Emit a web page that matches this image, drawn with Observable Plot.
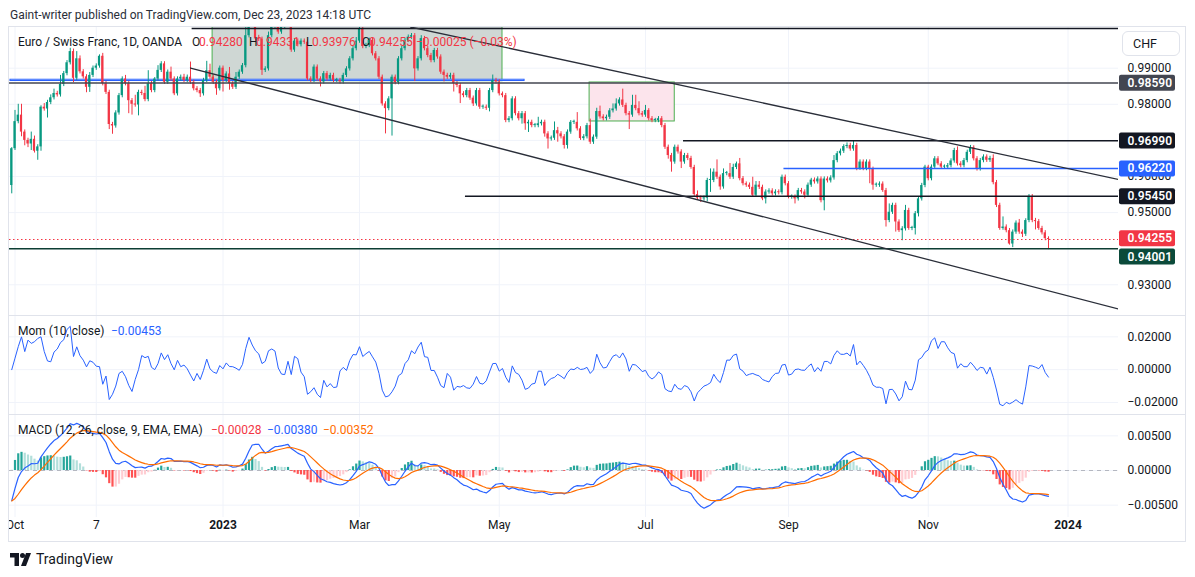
<!DOCTYPE html>
<html><head><meta charset="utf-8">
<script src="https://cdn.jsdelivr.net/npm/d3@7"></script>
<script src="https://cdn.jsdelivr.net/npm/@observablehq/plot@0.6"></script>
<style>
html,body{margin:0;padding:0;background:#fff;}
#root{position:relative;width:1195px;height:577px;overflow:hidden;background:#fff;font-family:Roboto,"Noto Sans",sans-serif;color:#131722;}
.a{position:absolute;white-space:nowrap;line-height:1;}
.pane{position:absolute;left:9px;width:1177px;overflow:hidden;}
.sep{position:absolute;left:9px;width:1177px;height:1px;background:#e0e3eb;}
</style></head><body><div id="root">
<div class="a" style="left:10px;top:9px;font-size:12px;color:#2a2e39">Gaint-writer published on TradingView.com, Dec 23, 2023 14:18 UTC</div>
<div class="a" style="left:8px;top:26px;width:1178px;height:516px;border:1px solid #e0e3eb;box-sizing:border-box"></div>
<div id="price" class="pane" style="top:27px;height:288px"></div>
<div id="mom" class="pane" style="top:315px;height:99px"></div>
<div id="macd" class="pane" style="top:414px;height:128px"></div>
<div class="sep" style="top:315px"></div>
<div class="sep" style="top:414px"></div>
<div id="legend" style="font-size:12px"></div>
<div class="a" style="left:1122px;top:31px;width:58px;height:25px;border:1px solid #e0e3eb;border-radius:6px;box-sizing:border-box;background:#fff"></div>
<div class="a" style="left:1133px;top:38px;font-size:12.5px;color:#131722">CHF</div>
<svg class="a" style="left:10px;top:553px" width="24" height="13" viewBox="0 0 24 13"><path d="M0 0h9v13h-4.5v-8.5h-4.5z" fill="#131722"/><circle cx="12.5" cy="2.5" r="2.5" fill="#131722"/><path d="M11 13l5-13h5l-5 13z" fill="#131722"/></svg>
<div class="a" style="left:36px;top:552px;font-size:14px;color:#131722">TradingView</div>
</div>
<script>
// ---------------- data ----------------
const close = [
0.9677,0.9752,0.9770,0.9723,0.9700,0.9690,0.9703,0.9670,0.9682,0.9792,
0.9787,0.9805,0.9818,0.9830,0.9826,0.9855,0.9885,0.9915,0.9946,0.9872,
0.9926,0.9890,0.9876,0.9847,0.9880,0.9900,0.9906,0.9933,0.9857,0.9833,
0.9744,0.9740,0.9776,0.9824,0.9870,0.9857,0.9810,0.9800,0.9798,0.9833,
0.9830,0.9813,0.9857,0.9838,0.9870,0.9894,0.9912,0.9861,0.9889,0.9870,
0.9829,0.9870,0.9875,0.9866,0.9875,0.9861,0.9843,0.9838,0.9829,0.9866,
0.9893,0.9875,0.9861,0.9843,0.9900,0.9866,0.9884,0.9857,0.9847,0.9875,
0.9889,0.9907,0.9990,1.0040,1.0050,0.9981,0.9980,0.9894,0.9898,0.9990,
1.0015,1.0020,1.0000,1.0013,1.0020,1.0032,0.9950,0.9975,0.9965,0.9975,
0.9972,0.9870,0.9866,0.9903,0.9870,0.9862,0.9885,0.9870,0.9880,0.9866,
0.9866,0.9862,0.9880,0.9898,0.9926,0.9954,0.9975,1.0010,0.9960,0.9963,
0.9977,0.9940,0.9926,0.9875,0.9801,0.9788,0.9815,0.9875,0.9860,0.9926,
0.9954,0.9977,0.9986,0.9990,0.9898,0.9926,0.9982,0.9954,0.9935,0.9921,
0.9949,0.9931,0.9889,0.9880,0.9875,0.9880,0.9857,0.9852,0.9829,0.9824,
0.9838,0.9817,0.9801,0.9838,0.9792,0.9792,0.9789,0.9838,0.9866,0.9862,
0.9829,0.9824,0.9755,0.9760,0.9815,0.9774,0.9760,0.9774,0.9746,0.9750,
0.9741,0.9741,0.9746,0.9750,0.9718,0.9704,0.9706,0.9727,0.9718,0.9710,
0.9686,0.9723,0.9750,0.9750,0.9732,0.9705,0.9710,0.9741,0.9695,0.9709,
0.9780,0.9765,0.9760,0.9764,0.9782,0.9787,0.9801,0.9812,0.9797,0.9774,
0.9770,0.9797,0.9788,0.9774,0.9770,0.9783,0.9760,0.9755,0.9755,0.9760,
0.9741,0.9681,0.9658,0.9640,0.9681,0.9668,0.9640,0.9658,0.9650,0.9625,
0.9550,0.9540,0.9538,0.9540,0.9589,0.9589,0.9612,0.9598,0.9571,0.9608,
0.9608,0.9598,0.9625,0.9635,0.9594,0.9580,0.9576,0.9570,0.9548,0.9576,
0.9570,0.9538,0.9557,0.9560,0.9552,0.9557,0.9555,0.9598,0.9580,0.9543,
0.9543,0.9538,0.9561,0.9557,0.9548,0.9576,0.9590,0.9585,0.9593,0.9533,
0.9593,0.9588,0.9596,0.9644,0.9663,0.9670,0.9683,0.9686,0.9676,0.9686,
0.9622,0.9640,0.9622,0.9640,0.9620,0.9576,0.9576,0.9579,0.9561,0.9478,
0.9501,0.9520,0.9474,0.9450,0.9455,0.9506,0.9456,0.9456,0.9497,0.9538,
0.9575,0.9626,0.9594,0.9626,0.9649,0.9635,0.9626,0.9626,0.9630,0.9643,
0.9672,0.9635,0.9630,0.9644,0.9667,0.9680,0.9649,0.9621,0.9644,0.9654,
0.9645,0.9650,0.9583,0.9520,0.9456,0.9460,0.9450,0.9413,0.9446,0.9471,
0.9446,0.9440,0.9478,0.9545,0.9478,0.9475,0.9456,0.9444,0.9428,0.94255];

const open = [
0.9575,0.9677,0.9752,0.9770,0.9723,0.9700,0.9690,0.9703,0.9670,0.9682,
0.9792,0.9787,0.9805,0.9818,0.9830,0.9826,0.9855,0.9885,0.9915,0.9946,
0.9872,0.9926,0.9890,0.9876,0.9847,0.9880,0.9900,0.9906,0.9933,0.9857,
0.9833,0.9744,0.9740,0.9776,0.9824,0.9870,0.9857,0.9810,0.9800,0.9798,
0.9833,0.9830,0.9813,0.9857,0.9838,0.9870,0.9894,0.9912,0.9861,0.9889,
0.9870,0.9829,0.9870,0.9875,0.9866,0.9875,0.9861,0.9843,0.9838,0.9829,
0.9866,0.9893,0.9875,0.9861,0.9843,0.9900,0.9866,0.9884,0.9857,0.9847,
0.9875,0.9889,0.9907,0.9990,1.0040,1.0050,0.9981,0.9980,0.9894,0.9898,
0.9990,1.0015,1.0020,1.0000,1.0013,1.0020,1.0032,0.9950,0.9975,0.9965,
0.9975,0.9972,0.9870,0.9866,0.9903,0.9870,0.9862,0.9885,0.9870,0.9880,
0.9866,0.9866,0.9862,0.9880,0.9898,0.9926,0.9954,0.9975,1.0010,0.9960,
0.9963,0.9977,0.9940,0.9926,0.9875,0.9801,0.9788,0.9815,0.9875,0.9860,
0.9926,0.9954,0.9977,0.9986,0.9990,0.9898,0.9926,0.9982,0.9954,0.9935,
0.9921,0.9949,0.9931,0.9889,0.9880,0.9875,0.9880,0.9857,0.9852,0.9829,
0.9824,0.9838,0.9817,0.9801,0.9838,0.9792,0.9792,0.9789,0.9838,0.9866,
0.9862,0.9829,0.9824,0.9755,0.9760,0.9815,0.9774,0.9760,0.9774,0.9746,
0.9750,0.9741,0.9741,0.9746,0.9750,0.9718,0.9704,0.9706,0.9727,0.9718,
0.9710,0.9686,0.9723,0.9750,0.9750,0.9732,0.9705,0.9710,0.9741,0.9695,
0.9709,0.9780,0.9765,0.9760,0.9764,0.9782,0.9787,0.9801,0.9812,0.9797,
0.9774,0.9770,0.9797,0.9788,0.9774,0.9770,0.9783,0.9760,0.9755,0.9755,
0.9760,0.9741,0.9681,0.9658,0.9640,0.9681,0.9668,0.9640,0.9658,0.9650,
0.9625,0.9550,0.9540,0.9538,0.9540,0.9589,0.9589,0.9612,0.9598,0.9571,
0.9608,0.9608,0.9598,0.9625,0.9635,0.9594,0.9580,0.9576,0.9570,0.9548,
0.9576,0.9570,0.9538,0.9557,0.9560,0.9552,0.9557,0.9555,0.9598,0.9580,
0.9543,0.9543,0.9538,0.9561,0.9557,0.9548,0.9576,0.9590,0.9585,0.9593,
0.9533,0.9593,0.9588,0.9596,0.9644,0.9663,0.9670,0.9683,0.9686,0.9676,
0.9686,0.9622,0.9640,0.9622,0.9640,0.9620,0.9576,0.9576,0.9579,0.9561,
0.9478,0.9501,0.9520,0.9474,0.9450,0.9455,0.9506,0.9456,0.9456,0.9497,
0.9538,0.9575,0.9626,0.9594,0.9626,0.9649,0.9635,0.9626,0.9626,0.9630,
0.9643,0.9672,0.9635,0.9630,0.9644,0.9667,0.9680,0.9649,0.9621,0.9644,
0.9654,0.9645,0.9650,0.9583,0.9520,0.9456,0.9460,0.9450,0.9413,0.9446,
0.9471,0.9446,0.9440,0.9478,0.9545,0.9478,0.9475,0.9456,0.9444,0.9428];

// wick lengths above / below the candle body, in pips (0.0001)
const upWick = [
3,31,30,30,6,6,20,9,6,4,10,6,8,12,6,25,6,6,9,7,
20,8,6,6,8,6,6,4,8,6,6,6,6,6,6,10,6,6,25,6,
6,20,36,6,4,13,6,6,6,14,6,6,6,8,6,42,6,6,6,6,
26,18,6,6,6,6,6,18,6,13,6,6,30,20,20,10,10,6,6,10,
10,10,10,10,10,10,12,6,6,6,6,6,6,6,6,6,6,6,6,6,
6,6,6,6,6,6,10,30,30,6,6,6,6,6,6,6,6,6,6,6,
6,6,6,6,6,6,8,6,6,6,6,6,6,6,6,6,6,6,6,6,
6,6,6,6,6,6,6,6,15,6,6,5,6,6,6,6,6,6,6,6,
6,6,18,6,6,6,6,24,9,6,6,6,5,6,27,6,6,6,18,6,
9,15,6,6,6,14,14,6,30,6,6,28,28,19,6,14,5,6,6,6,
6,6,6,6,6,6,6,6,6,6,6,10,6,6,6,32,9,34,6,13,
6,28,9,5,15,6,5,6,28,10,10,6,6,6,6,6,6,6,6,6,
6,6,6,6,6,6,5,6,6,6,6,6,6,14,6,6,5,7,6,11,
6,6,6,6,6,6,6,6,6,6,23,6,6,6,6,14,6,6,6,6,
6,5,5,6,6,6,6,6,6,6,6,10,6,6,6,6,5,6,6,6,
6,6,10,6,6,28,6,6,6,6,10,6,5,5,5,6,6,6,6,5];
const downWick = [
23,5,6,13,15,10,18,5,25,12,6,25,6,6,6,6,6,6,6,12,
6,6,6,15,14,6,6,6,6,6,14,23,6,6,6,6,36,30,6,30,
6,6,6,6,6,6,6,6,6,6,5,6,6,6,6,6,6,6,10,6,
6,6,6,18,6,32,6,18,6,6,6,6,6,6,6,6,6,14,6,6,
6,6,6,6,6,6,6,6,6,6,6,5,6,6,6,14,6,6,6,6,
6,6,6,6,6,6,6,6,6,6,6,6,6,6,6,70,6,103,6,6,
6,6,6,6,35,6,6,6,6,6,6,6,6,18,6,6,23,6,27,6,
6,6,7,6,6,6,6,10,6,6,6,6,6,6,6,6,6,15,18,24,
6,6,6,6,9,28,6,6,23,6,10,10,6,6,6,5,6,6,6,6,
6,6,6,6,6,6,6,6,6,6,40,6,6,6,6,6,6,6,6,6,
6,6,10,28,6,6,18,6,6,5,6,5,10,6,10,33,6,6,9,6,
6,6,6,6,6,6,6,6,6,6,6,5,14,6,6,6,6,6,6,5,
6,14,6,6,10,5,6,6,6,6,28,6,6,6,6,6,6,6,6,6,
6,5,6,6,40,14,6,6,5,18,6,6,28,5,28,6,5,6,18,9,
6,6,6,6,6,5,6,6,6,6,6,6,6,6,6,6,6,6,6,6,
6,6,6,6,5,5,6,3,10,6,6,9,6,6,6,23,5,6,6,28];

// closes of the 10 sessions before the first visible bar (read back from the momentum pane)
const priorCloses = [0.9677,0.9682,0.9630,0.9523,0.9590,0.9510,0.9543,0.9500,0.9492,0.9592];
// MACD state just before the first visible bar
const ema12Seed = 0.9550, ema26Seed = 0.9608, signalSeed = -0.0044;

const priceTicks = [0.93,0.94,0.95,0.96,0.97,0.98,0.99];
const priceTickLabels = [0.93,0.95,0.96,0.98,0.99]; // 0.94 and 0.97 sit under level labels
const momTicks = [-0.02,0,0.02];
const macdTicks = [-0.005,0,0.005];
const timeTickBars = [1,26,65,107,150,195,239,282,325];
const timeTickLabels = ["Oct","7","2023","Mar","May","Jul","Sep","Nov","2024"];
const timeTickIsYear = [false,false,true,false,false,false,false,false,true];

// drawings on the chart (bar index / price)
const levelPrices = [0.98590,0.96990,0.96220,0.95450,0.94001];
const levelStartBars = [-0.7,206.7,237.6,139.6,-0.7];
const lastPrice = 0.94255;
const topLineBar = 55.5, topLinePrice = 1.00102;
const upperTrend = [[122.7,1.00141],[340.5,0.95917]];
const lowerTrend = [[55.0,0.99005],[340.5,0.92330]];
const greyBox = [61.8,151.0,0.9864,1.0120];
const pinkBox = [177.8,204.0,0.97524,0.98604];
const blueStrip = [-0.4,157.8,0.98645,0.98680];
const labelPrices = [0.98590,0.96990,0.96220,0.95450,0.94255,0.94001];

// ---------------- styles ----------------
const UP = "#089981", DOWN = "#f23645";
const levelColors = ["#434651","#131722","#2962ff","#131722","#0d3d33"];
const labelBg = ["#434651","#131722","#2962ff","#131722","#f23645","#0b4a3a"];
const labelDy = [0,0,0,0,-1,8];
const W = 1177, PR = 1109;
const xMin = (0 - 2.25) / 3.25, xMax = (PR - 2.25) / 3.25;
const fmt = d3.format(".5f");
const GRID = "#f0f3fa";

const bars = close.map((c, i) => {
  const o = open[i];
  const b1 = Math.min(o, c), b2 = Math.max(o, c);
  return {i, o, c, hi: b2 + upWick[i] / 1e4, lo: b1 - downWick[i] / 1e4,
          col: c >= o ? UP : DOWN, b1, b2: Math.max(b2, b1 + 0.00028)};
});

// indicators from the closes
const momRows = close.map((c, i) => ({i, m: c - (i >= 10 ? close[i - 10] : priorCloses[i])}));
let e12 = ema12Seed, e26 = ema26Seed, sig = signalSeed;
const macdRows = close.map((c, i) => {
  e12 += (c - e12) * 2 / 13; e26 += (c - e26) * 2 / 27;
  const m = e12 - e26; sig += (m - sig) * 2 / 10;
  return {i, macd: m, signal: sig, hist: m - sig};
});
macdRows.forEach((d, i) => {
  const prev = i ? macdRows[i - 1].hist : d.hist;
  d.col = d.hist >= 0 ? (prev < d.hist ? "#26a69a" : "#b2dfdb") : (prev < d.hist ? "#ffcdd2" : "#ff5252");
});

const timeTicks = timeTickBars.map((b, k) => ({bar: b, label: timeTickLabels[k], year: timeTickIsYear[k]}));
const baseStyle = {fontFamily: "Roboto, 'Noto Sans', sans-serif", background: "transparent", overflow: "hidden"};

// ---------------- price pane ----------------
const seg = (a) => ({x1: a[0], x2: a[1], y1: a[2], y2: a[3]});
const priceSvg = Plot.plot({
  width: W, height: 288, margin: 0, marginRight: W - PR,
  style: baseStyle,
  color: {type: "identity"},
  x: {domain: [xMin, xMax], axis: null},
  y: {domain: [0.92150, 1.00127], axis: null},
  marks: [
    Plot.ruleY(priceTicks, {stroke: GRID}),
    Plot.ruleX(timeTickBars, {stroke: GRID}),
    Plot.rect([seg(greyBox)], {x1: "x1", x2: "x2", y1: "y1", y2: "y2", fill: "#cfd7d4", stroke: "#4caf50", strokeWidth: 1, clip: true}),
    Plot.rect([seg(pinkBox)], {x1: "x1", x2: "x2", y1: "y1", y2: "y2", fill: "#fce4ec", stroke: "#4caf50", strokeWidth: 1, clip: true}),
    Plot.rect([seg(blueStrip)], {x1: "x1", x2: "x2", y1: "y1", y2: "y2", fill: "#ffffff", stroke: "#2962ff", strokeWidth: 1, clip: true}),
    Plot.ruleX(bars, {x: "i", y1: "lo", y2: "hi", stroke: "col", strokeWidth: 1, clip: true}),
    Plot.rect(bars, {x1: d => d.i - 0.34, x2: d => d.i + 0.34, y1: "b1", y2: "b2", fill: "col", clip: true}),
    Plot.ruleY([lastPrice], {stroke: "#f23645", strokeDasharray: "1.5,2.5", strokeWidth: 1}),
    Plot.ruleY(levelPrices.map((p, k) => ({p, s: levelStartBars[k], col: levelColors[k]})),
      {y: "p", x1: "s", x2: xMax, stroke: "col", strokeWidth: 1.5}),
    Plot.ruleY([{p: topLinePrice, s: topLineBar}], {y: "p", x1: "s", x2: xMax, stroke: "#131722", strokeWidth: 1.5}),
    Plot.line(upperTrend, {x: d => d[0], y: d => d[1], stroke: "#2a2e39", strokeWidth: 1.3, clip: true}),
    Plot.line(lowerTrend, {x: d => d[0], y: d => d[1], stroke: "#2a2e39", strokeWidth: 1.3, clip: true}),
    Plot.text(priceTickLabels, {y: d => d, text: d => fmt(d), frameAnchor: "right", textAnchor: "start", dx: 9, fill: "#131722", fontSize: 12}),
    ...labelPrices.map((p, k) => Plot.text([p], {y: d => d, text: d => fmt(d), frameAnchor: "right", textAnchor: "start",
      dx: 9, dy: labelDy[k], fill: "white", fontSize: 12, fontWeight: 600}))
  ]
});
document.getElementById("price").appendChild(priceSvg);

// label boxes behind the level labels on the price scale
(function () {
  const ns = "http://www.w3.org/2000/svg";
  const sr = priceSvg.getBoundingClientRect();
  labelPrices.forEach((p, k) => {
    const s = fmt(p);
    const t = [...priceSvg.querySelectorAll("text")].filter(e => e.textContent === s).pop();
    if (!t) return;
    const r = t.getBoundingClientRect();
    const cy = (r.top + r.bottom) / 2 - sr.top;
    const rect = document.createElementNS(ns, "rect");
    rect.setAttribute("x", PR + 1); rect.setAttribute("y", cy - 8);
    rect.setAttribute("width", 56); rect.setAttribute("height", 16);
    rect.setAttribute("rx", 2); rect.setAttribute("fill", labelBg[k]);
    let n = t; while (n.parentNode && n.parentNode !== priceSvg) n = n.parentNode;
    priceSvg.insertBefore(rect, n);
  });
})();

// ---------------- momentum pane ----------------
const momSvg = Plot.plot({
  width: W, height: 99, margin: 0, marginRight: W - PR,
  style: baseStyle,
  x: {domain: [xMin, xMax], axis: null},
  y: {domain: [-0.02732, 0.03299], axis: null},
  marks: [
    Plot.ruleY(momTicks, {stroke: GRID}),
    Plot.ruleX(timeTickBars, {stroke: GRID}),
    Plot.line(momRows, {x: "i", y: "m", stroke: "#2962ff", strokeWidth: 1, clip: true}),
    Plot.text(momTicks, {y: d => d, text: d => fmt(d), frameAnchor: "right", textAnchor: "start", dx: 9, fill: "#131722", fontSize: 12})
  ]
});
document.getElementById("mom").appendChild(momSvg);

// ---------------- MACD pane + time axis ----------------
const macdSvg = Plot.plot({
  width: W, height: 128, marginTop: 0, marginLeft: 0, marginRight: W - PR, marginBottom: 25,
  style: baseStyle,
  color: {type: "identity"},
  x: {domain: [xMin, xMax], axis: null},
  y: {domain: [-0.00678, 0.00808], axis: null},
  marks: [
    Plot.ruleY(macdTicks, {stroke: GRID}),
    Plot.ruleX(timeTickBars, {stroke: GRID}),
    Plot.ruleY([0], {stroke: "#787b86", strokeOpacity: 0.5, strokeDasharray: "4,4"}),
    Plot.ruleX(macdRows, {x: "i", y1: 0, y2: "hist", stroke: "col", strokeWidth: 2.2, clip: true}),
    Plot.line(macdRows, {x: "i", y: "macd", stroke: "#2962ff", strokeWidth: 1.2, clip: true}),
    Plot.line(macdRows, {x: "i", y: "signal", stroke: "#ff6d00", strokeWidth: 1.2, clip: true}),
    Plot.text(macdTicks, {y: d => d, text: d => fmt(d), frameAnchor: "right", textAnchor: "start", dx: 9, fill: "#131722", fontSize: 12}),
    Plot.text(timeTicks.filter(d => !d.year), {x: "bar", text: "label", frameAnchor: "bottom", dy: 11, fill: "#131722", fontSize: 12}),
    Plot.text(timeTicks.filter(d => d.year), {x: "bar", text: "label", frameAnchor: "bottom", dy: 11, fill: "#131722", fontSize: 12, fontWeight: 700})
  ]
});
document.getElementById("macd").appendChild(macdSvg);

// ---------------- pane legends ----------------
const legendItems = [
  {t: "Euro / Swiss Franc, 1D, OANDA", x: 18, y: 36, c: "#131722"},
  {t: "O", x: 192, y: 36, c: "#131722"}, {t: "0.94280", x: 199, y: 36, c: "#f23645"},
  {t: "H", x: 249, y: 36, c: "#131722"}, {t: "0.94331", x: 256, y: 36, c: "#f23645"},
  {t: "L", x: 306, y: 36, c: "#131722"}, {t: "0.93976", x: 312, y: 36, c: "#f23645"},
  {t: "C", x: 362, y: 36, c: "#131722"}, {t: "0.94255", x: 369, y: 36, c: "#f23645"},
  {t: "\u22120.00025 (\u22120.03%)", x: 416, y: 36, c: "#f23645"},
  {t: "Mom (10, close)", x: 18, y: 325, c: "#131722"},
  {t: "\u22120.00453", x: 111, y: 325, c: "#2962ff"},
  {t: "MACD (12, 26, close, 9, EMA, EMA)", x: 18, y: 424, c: "#131722"},
  {t: "\u22120.00028", x: 211, y: 424, c: "#f23645"},
  {t: "\u22120.00380", x: 267, y: 424, c: "#2962ff"},
  {t: "\u22120.00352", x: 323, y: 424, c: "#ff6d00"}
];
const lg = document.getElementById("legend");
legendItems.forEach(d => {
  const s = document.createElement("div");
  s.className = "a"; s.textContent = d.t;
  s.style.left = d.x + "px"; s.style.top = d.y + "px"; s.style.color = d.c; s.style.fontSize = "12px";
  lg.appendChild(s);
});
</script></body></html>
